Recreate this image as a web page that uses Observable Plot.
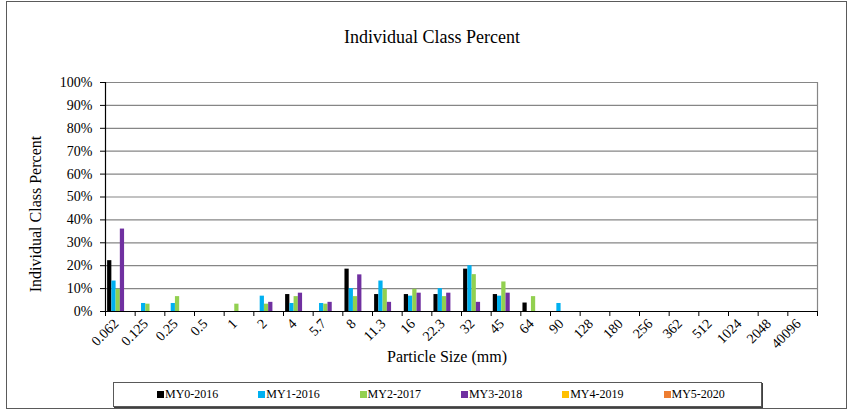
<!DOCTYPE html>
<html>
<head>
<meta charset="utf-8">
<script src="https://cdn.jsdelivr.net/npm/d3@7"></script>
<script src="https://cdn.jsdelivr.net/npm/@observablehq/plot@0.6"></script>
<style>
  html, body { margin: 0; padding: 0; background: #fff; }
  #wrap { position: relative; width: 852px; height: 414px; overflow: hidden; font-family: "Liberation Serif", "Times New Roman", serif; color: #000; }
  #border { position: absolute; left: 6px; top: 1px; width: 841px; height: 408px; border: 1.5px solid #5a5a5a; box-sizing: border-box; }
  #chart { position: absolute; left: 0; top: 0; }
  .title { position: absolute; left: 0; width: 864px; top: 28px; text-align: center; font-size: 18px; line-height: 18px; white-space: nowrap; }
  .ytitle { position: absolute; left: 36px; top: 214px; width: 220px; height: 16px; line-height: 16px; font-size: 16px; text-align: center; white-space: nowrap; transform: translate(-50%, -50%) rotate(-90deg); }
  .xtitle { position: absolute; left: 247px; width: 400px; top: 349px; line-height: 16px; font-size: 16px; text-align: center; white-space: nowrap; }
  #legend { position: absolute; left: 113px; top: 382px; width: 649px; height: 25px; border: 1px solid #595959; box-shadow: 1px 1px 0 #404040; box-sizing: border-box; background: #fff; }
  .item { position: absolute; top: 0; height: 23px; line-height: 23px; font-size: 12px; white-space: nowrap; }
  .sw { display: inline-block; width: 7px; height: 7px; margin-right: 1px; vertical-align: 0px; }
</style>
</head>
<body>
<div id="wrap">
  <div id="border"></div>
  <div id="chart"></div>
  <div class="title">Individual Class Percent</div>
  <div class="ytitle">Individual Class Percent</div>
  <div class="xtitle">Particle Size (mm)</div>
  <div id="legend"></div>
</div>
<script>
// ---- data ----
const categories = ["0.062","0.125","0.25","0.5","1","2","4","5.7","8","11.3","16","22.3","32","45","64","90","128","180","256","362","512","1024","2048","40096"];
const seriesNames = ["MY0-2016","MY1-2016","MY2-2017","MY3-2018","MY4-2019","MY5-2020"];
const seriesColors = ["#000000","#00B0F0","#92D050","#7030A0","#FFC000","#ED7D31"];
const my0_2016 = [22.2,0,0,0,0,0,7.4,0,18.5,7.4,7.4,7.4,18.5,7.4,3.7,0,0,0,0,0,0,0,0,0];
const my1_2016 = [13.3,3.5,3.5,0,0,6.7,3.5,3.5,10,13.3,6.7,10,20,6.7,0,3.5,0,0,0,0,0,0,0,0];
const my2_2017 = [9.7,3.2,6.5,0,3.2,3.2,6.5,3.2,6.5,9.7,9.7,6.5,16.1,12.9,6.5,0,0,0,0,0,0,0,0,0];
const my3_2018 = [36,0,0,0,0,4,8,4,16,4,8,8,4,8,0,0,0,0,0,0,0,0,0,0];
const my4_2019 = [0,0,0,0,0,0,0,0,0,0,0,0,0,0,0,0,0,0,0,0,0,0,0,0];
const my5_2020 = [0,0,0,0,0,0,0,0,0,0,0,0,0,0,0,0,0,0,0,0,0,0,0,0];
const yTicks = [0,10,20,30,40,50,60,70,80,90,100];

// ---- build table ----
const seriesValues = [my0_2016, my1_2016, my2_2017, my3_2018, my4_2019, my5_2020];
const slots = seriesNames.length + 1; // one slot of gap per category
const rows = [];
seriesValues.forEach((vals, si) => {
  vals.forEach((v, ci) => {
    if (v > 0) rows.push({cat: categories[ci], ci, series: seriesNames[si], si, value: v});
  });
});

const chart = Plot.plot({
  width: 852,
  height: 414,
  marginLeft: 105,
  marginRight: 35,
  marginTop: 82,
  marginBottom: 103,
  x: {domain: [0, categories.length]},
  y: {domain: [0, 100]},
  color: {domain: seriesNames, range: seriesColors},
  style: {fontFamily: "Liberation Serif", fontSize: "14px", color: "#000", background: "transparent", overflow: "visible"},
  marks: [
    Plot.ruleY(yTicks.filter(t => t > 0), {stroke: "#868686", strokeWidth: 1.2}),
    Plot.ruleX([categories.length], {y1: 0, y2: 100, stroke: "#868686", strokeWidth: 1.2}),
    Plot.rect(rows, {
      x1: d => d.ci + (d.si + 0.5) / slots,
      x2: d => d.ci + (d.si + 1.5) / slots,
      y1: 0,
      y2: "value",
      fill: "series"
    }),
    Plot.ruleY([0], {stroke: "#000", strokeWidth: 1.2}),
    Plot.ruleX([0], {y1: 0, y2: 100, stroke: "#000", strokeWidth: 1.2}),
    Plot.axisY({ticks: yTicks, tickFormat: d => d + "%", tickSize: 5, tickPadding: 8, label: null, fontSize: 14, stroke: "#000"}),
    Plot.axisX({ticks: d3.range(0, categories.length + 1), tickFormat: () => "", tickSize: 5, label: null}),
    Plot.text(categories, {
      x: (d, i) => i + 0.5,
      frameAnchor: "bottom",
      rotate: -45,
      textAnchor: "end",
      dx: -1,
      dy: 13,
      fontSize: 14
    })
  ]
});
document.getElementById("chart").appendChild(chart);

// ---- legend ----
const legend = document.getElementById("legend");
seriesNames.forEach((name, i) => {
  const item = document.createElement("div");
  item.className = "item";
  item.style.left = (43 + i * 101.3) + "px";
  const sw = document.createElement("span");
  sw.className = "sw";
  sw.style.background = seriesColors[i];
  item.appendChild(sw);
  item.appendChild(document.createTextNode(name));
  legend.appendChild(item);
});
</script>
</body>
</html>
